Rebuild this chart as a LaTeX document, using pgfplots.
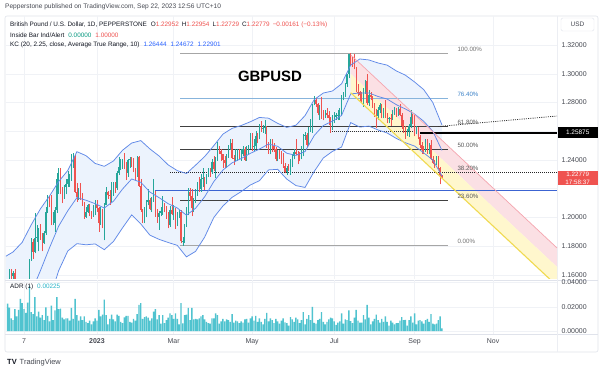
\documentclass[border=0pt]{standalone}
\usepackage{fontspec}
\setmainfont{Liberation Sans}
\usepackage{pgfplots}
\usepackage{pgfplotstable}
\pgfplotsset{compat=1.18}
\definecolor{upc}{HTML}{26A69A}
\definecolor{dnc}{HTML}{EF5350}
\definecolor{kcl}{RGB}{96,137,232}
\definecolor{kcf}{RGB}{236,243,253}
\definecolor{adrc}{RGB}{80,195,207}
\definecolor{adrt}{RGB}{40,180,200}
\definecolor{pinkf}{RGB}{251,224,228}
\definecolor{pinkl}{RGB}{245,165,175}
\definecolor{yelf}{RGB}{255,247,205}
\definecolor{yell}{RGB}{240,218,80}
\definecolor{gridc}{RGB}{240,242,246}
\definecolor{sepc}{RGB}{224,227,235}
\definecolor{txt}{RGB}{19,23,34}
\definecolor{lbl}{RGB}{70,73,82}
\definecolor{blv}{RGB}{41,98,255}
\definecolor{grv}{RGB}{8,153,129}
\definecolor{hline}{RGB}{60,100,210}
\definecolor{fibb}{RGB}{135,180,220}
\definecolor{fibbt}{RGB}{60,130,200}
\newcommand\fs[1]{\fontsize{#1}{1.25\dimexpr#1pt\relax}\selectfont}

\pgfplotstableread{
i o h l c
-49 1.1300 1.1495 1.1270 1.1475
-48 1.1475 1.1643 1.1450 1.1620
-47 1.1620 1.1640 1.1535 1.1590
-46 1.1590 1.1625 1.1535 1.1615
-45 1.1615 1.1645 1.1465 1.1465
-44 1.1465 1.1560 1.1440 1.1510
-43 1.1510 1.1565 1.1390 1.1390
-42 1.1390 1.1410 1.1145 1.1170
-41 1.1170 1.1400 1.1170 1.1380
-40 1.1380 1.1550 1.1370 1.1510
-39 1.1510 1.1560 1.1410 1.1545
-38 1.1545 1.1570 1.1335 1.1345
-37 1.1345 1.1710 1.1335 1.1705
-36 1.1705 1.1855 1.1700 1.1830
-35 1.1830 1.1850 1.1710 1.1760
-34 1.1760 1.2030 1.1750 1.1860
-33 1.1860 1.1950 1.1830 1.1860
-32 1.1860 1.1925 1.1765 1.1915
-31 1.1915 1.1955 1.1845 1.1890
-30 1.1890 1.1895 1.1765 1.1825
-29 1.1825 1.1905 1.1815 1.1890
-28 1.1890 1.2075 1.1880 1.2040
-27 1.2040 1.2155 1.2030 1.2120
-26 1.2120 1.2150 1.2070 1.2095
-25 1.2095 1.2155 1.1945 1.1960
-24 1.1960 1.2040 1.1950 1.1965
-23 1.1965 1.2070 1.1900 1.2055
-22 1.2055 1.2310 1.2030 1.2265
-21 1.2265 1.2345 1.2165 1.2285
-20 1.2285 1.2345 1.2160 1.2180
-19 1.2180 1.2210 1.2100 1.2155
-18 1.2155 1.2225 1.2130 1.2215
-17 1.2215 1.2265 1.2160 1.2235
-16 1.2235 1.2320 1.2215 1.2270
-15 1.2270 1.2300 1.2215 1.2280
-14 1.2280 1.2445 1.2255 1.2365
-13 1.2365 1.2446 1.2345 1.2420
-12 1.2420 1.2435 1.2170 1.2180
-11 1.2180 1.2240 1.2110 1.2140
-10 1.2140 1.2205 1.2120 1.2180
-9 1.2180 1.2240 1.2120 1.2155
-8 1.2155 1.2170 1.2080 1.2090
-7 1.2090 1.2110 1.1990 1.2000
-6 1.2000 1.2070 1.1995 1.2040
-5 1.2040 1.2095 1.2030 1.2085
-4 1.2085 1.2095 1.2010 1.2025
-3 1.2025 1.2045 1.1990 1.2020
-2 1.2020 1.2085 1.2005 1.2070
-1 1.2070 1.2120 1.2015 1.2090
0 1.2090 1.2125 1.2040 1.2065
1 1.2065 1.2075 1.1900 1.1960
2 1.1960 1.2070 1.1950 1.2050
3 1.2050 1.2060 1.1925 1.1935
4 1.1935 1.2100 1.1841 1.2090
5 1.2090 1.2215 1.2085 1.2180
6 1.2180 1.2185 1.2130 1.2155
7 1.2155 1.2190 1.2090 1.2150
8 1.2150 1.2245 1.2110 1.2215
9 1.2215 1.2245 1.2150 1.2225
10 1.2225 1.2250 1.2170 1.2205
11 1.2205 1.2325 1.2190 1.2310
12 1.2310 1.2420 1.2295 1.2350
13 1.2350 1.2405 1.2330 1.2390
14 1.2390 1.2405 1.2340 1.2395
15 1.2395 1.2447 1.2335 1.2365
16 1.2365 1.2385 1.2260 1.2310
17 1.2310 1.2410 1.2285 1.2400
18 1.2400 1.2420 1.2345 1.2405
19 1.2405 1.2420 1.2350 1.2395
20 1.2395 1.2415 1.2315 1.2335
21 1.2335 1.2345 1.2260 1.2320
22 1.2320 1.2425 1.2285 1.2420
23 1.2420 1.2430 1.2215 1.2220
24 1.2220 1.2265 1.2035 1.2055
25 1.2055 1.2060 1.1960 1.2025
26 1.2025 1.2075 1.1960 1.2050
27 1.2050 1.2120 1.2000 1.2110
28 1.2110 1.2195 1.2085 1.2120
29 1.2120 1.2135 1.2050 1.2060
30 1.2060 1.2145 1.2040 1.2140
31 1.2140 1.2270 1.2110 1.2175
32 1.2175 1.2185 1.2005 1.2040
33 1.2040 1.2060 1.1965 1.2005
34 1.2005 1.2045 1.1915 1.2030
35 1.2030 1.2070 1.2010 1.2045
36 1.2045 1.2150 1.2020 1.2095
37 1.2095 1.2100 1.2035 1.2065
38 1.2065 1.2080 1.1990 1.2005
39 1.2005 1.2035 1.1925 1.1945
40 1.1945 1.2080 1.1935 1.2050
41 1.2050 1.2145 1.2015 1.2025
42 1.2025 1.2085 1.1985 1.2050
43 1.2050 1.2065 1.1920 1.1945
44 1.1945 1.2040 1.1940 1.2035
45 1.2035 1.2050 1.1995 1.2040
46 1.2040 1.2050 1.1820 1.1835
47 1.1835 1.1865 1.1803 1.1835
48 1.1835 1.1955 1.1825 1.1950
49 1.1950 1.2070 1.1935 1.2030
50 1.2030 1.2205 1.2015 1.2175
51 1.2175 1.2205 1.2115 1.2150
52 1.2150 1.2200 1.2010 1.2065
53 1.2065 1.2135 1.2040 1.2120
54 1.2120 1.2200 1.2100 1.2180
55 1.2180 1.2245 1.2150 1.2225
56 1.2225 1.2285 1.2180 1.2200
57 1.2200 1.2300 1.2180 1.2270
58 1.2270 1.2345 1.2215 1.2275
59 1.2275 1.2285 1.2190 1.2235
60 1.2235 1.2305 1.2230 1.2295
61 1.2295 1.2345 1.2280 1.2335
62 1.2335 1.2345 1.2285 1.2315
63 1.2315 1.2410 1.2305 1.2385
64 1.2385 1.2425 1.2320 1.2335
65 1.2335 1.2420 1.2275 1.2415
66 1.2415 1.2525 1.2395 1.2495
67 1.2495 1.2500 1.2440 1.2465
68 1.2465 1.2475 1.2395 1.2440
69 1.2440 1.2445 1.2345 1.2400
70 1.2400 1.2425 1.2345 1.2380
71 1.2380 1.2440 1.2345 1.2420
72 1.2420 1.2505 1.2415 1.2490
73 1.2490 1.2545 1.2470 1.2520
74 1.2520 1.2545 1.2405 1.2415
75 1.2415 1.2435 1.2365 1.2410
76 1.2410 1.2475 1.2390 1.2435
77 1.2435 1.2475 1.2395 1.2445
78 1.2445 1.2475 1.2410 1.2440
79 1.2440 1.2475 1.2395 1.2440
80 1.2440 1.2495 1.2425 1.2480
81 1.2480 1.2490 1.2395 1.2400
82 1.2400 1.2495 1.2395 1.2470
83 1.2470 1.2505 1.2435 1.2495
84 1.2495 1.2585 1.2480 1.2570
85 1.2570 1.2585 1.2465 1.2495
86 1.2495 1.2545 1.2460 1.2495
87 1.2495 1.2600 1.2475 1.2570
88 1.2570 1.2590 1.2515 1.2565
89 1.2565 1.2650 1.2545 1.2635
90 1.2635 1.2670 1.2595 1.2620
91 1.2620 1.2645 1.2590 1.2625
92 1.2625 1.2680 1.2580 1.2630
93 1.2630 1.2635 1.2485 1.2500
94 1.2500 1.2525 1.2445 1.2450
95 1.2450 1.2545 1.2440 1.2530
96 1.2530 1.2545 1.2455 1.2495
97 1.2495 1.2520 1.2455 1.2475
98 1.2475 1.2490 1.2390 1.2410
99 1.2410 1.2470 1.2390 1.2445
100 1.2445 1.2470 1.2410 1.2440
101 1.2440 1.2460 1.2375 1.2410
102 1.2410 1.2450 1.2345 1.2355
103 1.2355 1.2380 1.2308 1.2315
104 1.2315 1.2360 1.2295 1.2345
105 1.2345 1.2370 1.2325 1.2340
106 1.2340 1.2410 1.2295 1.2375
107 1.2375 1.2445 1.2350 1.2430
108 1.2430 1.2480 1.2405 1.2455
109 1.2455 1.2545 1.2435 1.2445
110 1.2445 1.2465 1.2370 1.2435
111 1.2435 1.2455 1.2390 1.2430
112 1.2430 1.2495 1.2405 1.2490
113 1.2490 1.2580 1.2425 1.2575
114 1.2575 1.2595 1.2540 1.2575
115 1.2575 1.2590 1.2490 1.2505
116 1.2505 1.2630 1.2500 1.2615
117 1.2615 1.2685 1.2595 1.2665
118 1.2665 1.2790 1.2590 1.2785
119 1.2785 1.2848 1.2780 1.2815
120 1.2815 1.2830 1.2770 1.2790
121 1.2790 1.2800 1.2710 1.2730
122 1.2730 1.2780 1.2680 1.2760
123 1.2760 1.2840 1.2685 1.2740
124 1.2740 1.2750 1.2675 1.2715
125 1.2715 1.2745 1.2690 1.2730
126 1.2730 1.2765 1.2690 1.2710
127 1.2710 1.2740 1.2645 1.2690
128 1.2690 1.2700 1.2590 1.2625
129 1.2625 1.2715 1.2610 1.2700
130 1.2700 1.2735 1.2655 1.2700
131 1.2700 1.2730 1.2680 1.2715
132 1.2715 1.2745 1.2675 1.2715
133 1.2715 1.2760 1.2680 1.2740
134 1.2740 1.2850 1.2705 1.2840
135 1.2840 1.2875 1.2815 1.2860
136 1.2860 1.2935 1.2840 1.2930
137 1.2930 1.3000 1.2910 1.2995
138 1.2995 1.3140 1.2970 1.3135
139 1.3135 1.3142 1.3060 1.3090
140 1.3090 1.3115 1.3050 1.3085
141 1.3085 1.3140 1.3030 1.3035
142 1.3035 1.3045 1.2870 1.2875
143 1.2875 1.2930 1.2845 1.2870
144 1.2870 1.2880 1.2810 1.2855
145 1.2855 1.2870 1.2800 1.2825
146 1.2825 1.2900 1.2770 1.2890
147 1.2890 1.2955 1.2860 1.2950
148 1.2950 1.2995 1.2780 1.2795
149 1.2795 1.2885 1.2775 1.2850
150 1.2850 1.2870 1.2815 1.2835
151 1.2835 1.2845 1.2765 1.2780
152 1.2780 1.2800 1.2700 1.2715
153 1.2715 1.2755 1.2620 1.2705
154 1.2705 1.2770 1.2680 1.2750
155 1.2750 1.2795 1.2725 1.2785
156 1.2785 1.2790 1.2690 1.2715
157 1.2715 1.2765 1.2690 1.2745
158 1.2745 1.2815 1.2695 1.2705
159 1.2705 1.2730 1.2655 1.2690
160 1.2690 1.2700 1.2655 1.2690
161 1.2690 1.2720 1.2635 1.2685
162 1.2685 1.2750 1.2680 1.2730
163 1.2730 1.2770 1.2715 1.2745
164 1.2745 1.2765 1.2700 1.2735
165 1.2735 1.2770 1.2705 1.2755
166 1.2755 1.2790 1.2705 1.2715
167 1.2715 1.2730 1.2615 1.2640
168 1.2640 1.2680 1.2590 1.2600
169 1.2600 1.2640 1.2548 1.2580
170 1.2580 1.2615 1.2570 1.2600
171 1.2600 1.2650 1.2560 1.2640
172 1.2640 1.2746 1.2625 1.2700
173 1.2700 1.2720 1.2650 1.2690
174 1.2690 1.2710 1.2565 1.2585
175 1.2585 1.2635 1.2580 1.2625
176 1.2625 1.2630 1.2545 1.2560
177 1.2560 1.2575 1.2485 1.2505
178 1.2505 1.2525 1.2445 1.2470
179 1.2470 1.2500 1.2440 1.2465
180 1.2465 1.2545 1.2455 1.2505
181 1.2505 1.2545 1.2445 1.2490
182 1.2490 1.2515 1.2440 1.2505
183 1.2505 1.2540 1.2400 1.2410
184 1.2410 1.2430 1.2370 1.2380
185 1.2380 1.2400 1.2345 1.2375
186 1.2375 1.2425 1.2365 1.2395
187 1.2395 1.2425 1.2335 1.2345
188 1.2345 1.2350 1.2230 1.2294
189 1.22952 1.22954 1.22729 1.22779
}\candles

\pgfplotstableread{
i u m l
-50 1.1730 1.1280 1.0830
-46 1.1760 1.1310 1.0860
-41 1.1827 1.1367 1.0907
-36 1.1950 1.1480 1.1010
-31 1.2060 1.1630 1.1200
-26 1.2150 1.1790 1.1430
-21 1.2250 1.1940 1.1630
-16 1.2327 1.2047 1.1767
-11 1.2458 1.2138 1.1818
-6 1.2430 1.2120 1.1810
-1 1.2376 1.2096 1.1816
4 1.2356 1.2066 1.1776
9 1.2393 1.2113 1.1833
14 1.2468 1.2198 1.1928
19 1.2518 1.2268 1.2018
24 1.2535 1.2245 1.1955
29 1.2477 1.2177 1.1877
34 1.2428 1.2138 1.1848
39 1.2366 1.2096 1.1826
44 1.2326 1.2066 1.1806
49 1.2306 1.2016 1.1726
54 1.2364 1.2064 1.1764
59 1.2424 1.2144 1.1864
64 1.2500 1.2250 1.2000
69 1.2580 1.2330 1.2080
74 1.2620 1.2380 1.2140
79 1.2640 1.2410 1.2180
84 1.2666 1.2446 1.2226
89 1.2696 1.2476 1.2256
94 1.2691 1.2511 1.2331
99 1.2655 1.2495 1.2335
104 1.2627 1.2447 1.2267
109 1.2642 1.2432 1.2222
114 1.2709 1.2459 1.2209
119 1.2820 1.2570 1.2320
124 1.2866 1.2640 1.2414
129 1.2880 1.2670 1.2460
134 1.2930 1.2710 1.2490
139 1.3060 1.2860 1.2660
144 1.3103 1.2866 1.2629
149 1.3096 1.2866 1.2636
154 1.3075 1.2842 1.2609
159 1.3060 1.2824 1.2588
164 1.3020 1.2785 1.2550
169 1.2990 1.2755 1.2520
174 1.2943 1.2720 1.2497
179 1.2890 1.2670 1.2450
184 1.2800 1.2600 1.2400
189 1.26444 1.24672 1.22901
}\kc

\pgfplotstableread{
i p
-50 1.1730
-46 1.1760
-41 1.1827
-36 1.1950
-31 1.2060
-26 1.2150
-21 1.2250
-16 1.2327
-11 1.2458
-6 1.2430
-1 1.2376
4 1.2356
9 1.2393
14 1.2468
19 1.2518
24 1.2535
29 1.2477
34 1.2428
39 1.2366
44 1.2326
49 1.2306
54 1.2364
59 1.2424
64 1.2500
69 1.2580
74 1.2620
79 1.2640
84 1.2666
89 1.2696
94 1.2691
99 1.2655
104 1.2627
109 1.2642
114 1.2709
119 1.2820
124 1.2866
129 1.2880
134 1.2930
139 1.3060
144 1.3103
149 1.3096
154 1.3075
159 1.3060
164 1.3020
169 1.2990
174 1.2943
179 1.2890
184 1.2800
189 1.26444
189 1.22901
184 1.2400
179 1.2450
174 1.2497
169 1.2520
164 1.2550
159 1.2588
154 1.2609
149 1.2636
144 1.2629
139 1.2660
134 1.2490
129 1.2460
124 1.2414
119 1.2320
114 1.2209
109 1.2222
104 1.2267
99 1.2335
94 1.2331
89 1.2256
84 1.2226
79 1.2180
74 1.2140
69 1.2080
64 1.2000
59 1.1864
54 1.1764
49 1.1726
44 1.1806
39 1.1826
34 1.1848
29 1.1877
24 1.1955
19 1.2018
14 1.1928
9 1.1833
4 1.1776
-1 1.1816
-6 1.1810
-11 1.1818
-16 1.1767
-21 1.1630
-26 1.1430
-31 1.1200
-36 1.1010
-41 1.0907
-46 1.0860
-50 1.0830
}\kcpoly

\begin{document}
\begin{tikzpicture}
\fill[white] (0bp,0bp) rectangle (602bp,372bp);
\draw[sepc, line width=0.6bp, rounded corners=2bp] (5bp,20bp) rectangle (598bp,356bp);
\draw[sepc, line width=0.6bp] (5bp,92bp) -- (598bp,92bp);
\draw[sepc, line width=0.6bp] (5bp,38bp) -- (598bp,38bp);
\draw[sepc!60, line width=0.5bp] (557bp,20bp) -- (557bp,356bp);

% ---------------- main price pane
\begin{axis}[name=main, at={(6bp,93bp)}, anchor=south west, width=551bp, height=263bp, scale only axis,
  xmin=-49.86, xmax=252.05, ymin=1.1572, ymax=1.3402,
  axis line style={draw=none}, major tick length=0pt,
  xtick={-40,0,42,85,130,174,217}, xticklabels={},
  ytick={1.16,1.18,1.20,1.22,1.24,1.26,1.28,1.30,1.32},
  yticklabels={1.16000,1.18000,1.20000,,1.24000,,1.28000,1.30000,1.32000},
  yticklabel pos=right,
  yticklabel style={font=\fs{7}, text=lbl, anchor=west, xshift=1bp},
  grid=major, major grid style={draw=gridc, line width=0.5bp},
  colormap={ud}{color=(dnc) color=(upc)}, point meta min=0, point meta max=1]

\addplot[fill=kcf, draw=none, forget plot] table[x=i, y=p] {\kcpoly};

\addplot[fill=pinkf, draw=none, forget plot] coordinates {(139,1.3132) (252.05,1.1788) (252.05,1.1656) (139,1.3000) (139,1.3132)};
\addplot[fill=yelf, draw=none, forget plot] coordinates {(139,1.3000) (252.05,1.1656) (252.05,1.1524) (139,1.2868) (139,1.3000)};

\addplot[black!35, line width=0.8bp, forget plot] coordinates {(45.5,1.3142) (192.3,1.3142)};
\addplot[fibb, line width=0.8bp, forget plot] coordinates {(45.5,1.2826) (192.3,1.2826)};
\addplot[black!75, line width=0.8bp, forget plot] coordinates {(45.5,1.26305) (192.3,1.26305)};
\addplot[black!75, line width=0.8bp, forget plot] coordinates {(45.5,1.24725) (192.3,1.24725)};
\addplot[black!75, line width=0.8bp, forget plot] coordinates {(45.5,1.2119) (192.3,1.2119)};
\addplot[black!35, line width=0.8bp, forget plot] coordinates {(45.5,1.1803) (192.3,1.1803)};

\addplot[black!85, line width=0.8bp, dash pattern=on 1bp off 1bp, forget plot] coordinates {(40,1.2313) (252.05,1.2313)};
\addplot[hline, line width=0.9bp, forget plot] coordinates {(31.8,1.2191) (252.05,1.2191)};
\addplot[black!80, line width=0.8bp, dash pattern=on 1bp off 1bp, forget plot] coordinates {(127.7,1.2602) (177,1.2602)};
\addplot[black, line width=1.2bp, forget plot] coordinates {(177,1.25875) (252.05,1.25875)};
\addplot[black!80, line width=0.8bp, dash pattern=on 1bp off 1.2bp, forget plot] coordinates {(187,1.2633) (252.05,1.2706)};

\addplot[no markers, -, line width=0.5bp, point meta=explicit,
  quiver={u=0, v=\thisrow{h}-\thisrow{l}, colored=mapped color}, forget plot]
  table[x=i, y=l, meta expr={ifthenelse(\thisrow{c}<\thisrow{o},0,1)}] {\candles};
\addplot[no markers, -, line width=1.25bp, point meta=explicit,
  quiver={u=0, v={max(abs(\thisrow{c}-\thisrow{o}),0.00015)}, colored=mapped color}, forget plot]
  table[x=i, y expr={min(\thisrow{o},\thisrow{c})}, meta expr={ifthenelse(\thisrow{c}<\thisrow{o},0,1)}] {\candles};

\addplot[kcl, line width=0.75bp, forget plot] table[x=i, y=u] {\kc};
\addplot[kcl, line width=0.75bp, forget plot] table[x=i, y=m] {\kc};
\addplot[kcl, line width=0.75bp, forget plot] table[x=i, y=l] {\kc};

\addplot[pinkl, line width=0.7bp, forget plot] coordinates {(139,1.3132) (252.05,1.1788)};
\addplot[yell, line width=1.1bp, forget plot] coordinates {(139,1.2868) (252.05,1.1524)};

\node[anchor=base west, font=\fs{6.2}, text=black!55, yshift=2bp] at (axis cs:195.6,1.3142) {100.00\%};
\node[anchor=base west, font=\fs{6.2}, text=fibbt, yshift=2bp] at (axis cs:195.6,1.2826) {76.40\%};
\node[anchor=base west, font=\fs{6.2}, text=black!65, yshift=2bp] at (axis cs:195.6,1.26305) {61.80\%};
\node[anchor=base west, font=\fs{6.2}, text=black!65, yshift=2bp] at (axis cs:195.6,1.24725) {50.00\%};
\node[anchor=base west, font=\fs{6.2}, text=black!65, yshift=2bp] at (axis cs:195.6,1.23145) {38.20\%};
\node[anchor=base west, font=\fs{6.2}, text=black!65, yshift=2bp] at (axis cs:195.6,1.2119) {23.60\%};
\node[anchor=base west, font=\fs{6.2}, text=black!55, yshift=2bp] at (axis cs:195.6,1.1803) {0.00\%};
\end{axis}

% ---------------- ADR pane
\begin{axis}[name=adr, at={(6bp,38bp)}, anchor=south west, width=551bp, height=54bp, scale only axis,
  xmin=-49.86, xmax=252.05, ymin=-0.00247, ymax=0.04206,
  axis line style={draw=none}, major tick length=0pt,
  xtick={-40,0,42,85,130,174,217},
  xticklabels={7,\textbf{2023},Mar,May,Jul,Sep,Nov},
  xticklabel style={font=\fs{7}, text=lbl, yshift=-1bp},
  scaled y ticks=false,
  ytick={0,0.02,0.04}, yticklabels={0.00000,0.02000,0.04000},
  yticklabel pos=right,
  yticklabel style={font=\fs{7}, text=lbl, anchor=west, xshift=1bp},
  grid=major, major grid style={draw=gridc, line width=0.5bp}]
\addplot[ybar, bar width=1.4bp, fill=adrc, draw=none, forget plot]
  table[x=i, y expr={\thisrow{h}-\thisrow{l}}] {\candles};
\end{axis}

% ---------------- texts
\node[anchor=west, inner sep=0, font=\fs{6.6}, text=lbl] at (5bp,365bp) {Pepperstone published on TradingView.com, Sep 22, 2023 12:56 UTC+10};
\node[anchor=west, inner sep=0, font=\fs{6.4}, text=txt] at (10bp,347bp) {British Pound / U.S. Dollar, 1D, PEPPERSTONE\hspace{4bp}O\textcolor{dnc}{1.22952}\hspace{3bp}H\textcolor{dnc}{1.22954}\hspace{3bp}L\textcolor{dnc}{1.22729}\hspace{3bp}C\textcolor{dnc}{1.22779}\hspace{3bp}\textcolor{dnc}{−0.00161 (−0.13\%)}};
\node[anchor=west, inner sep=0, font=\fs{6.4}, text=txt] at (10bp,337bp) {Inside Bar Ind/Alert\hspace{4bp}\textcolor{grv}{0.00000}\hspace{4bp}\textcolor{dnc}{1.00000}};
\node[anchor=west, inner sep=0, font=\fs{6.4}, text=txt] at (10bp,327bp) {KC (20, 2.25, close, Average True Range, 10)\hspace{4bp}\textcolor{blv}{1.26444}\hspace{4bp}\textcolor{blv}{1.24672}\hspace{4bp}\textcolor{blv}{1.22901}};
\node[anchor=west, inner sep=0, font=\fs{6.4}, text=txt] at (10bp,85bp) {ADR (1)\hspace{4bp}\textcolor{adrt}{0.00225}};
\node[draw=sepc, rounded corners=1.5bp, font=\fs{6.5}, text=lbl, minimum width=33bp, minimum height=13bp, inner sep=0] at (577.5bp,347.5bp) {USD};
\node[font=\bfseries\fs{15}, text=black] at (270bp,296bp) {GBPUSD};
\node[anchor=west, fill=black, text=white, font=\fs{6.5}, inner sep=1.5bp, minimum width=40bp, minimum height=11bp] at (557.5bp,239.5bp) {1.25875};
\node[anchor=west, fill=dnc, text=white, font=\fs{6.3}, inner sep=1.2bp, minimum width=40bp, align=center] at (557.5bp,194bp) {1.22779\\17:58:37};
\node[anchor=west, inner sep=0, font=\fs{7.5}, text=txt] at (7bp,9bp) {\textbf{TV}\hspace{3bp}\textcolor{lbl}{TradingView}};

\pgfresetboundingbox
\path[use as bounding box] (0bp,0bp) rectangle (602bp,372bp);
\end{tikzpicture}
\end{document}
